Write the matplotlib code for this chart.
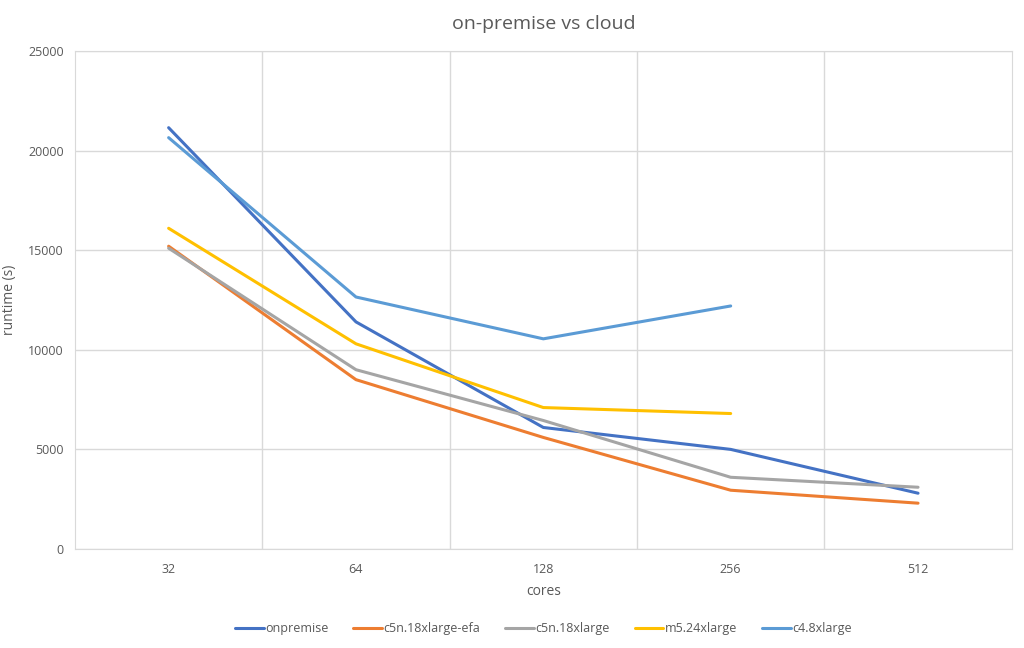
import numpy as np
import matplotlib.pyplot as plt

plt.rcParams['font.family'] = ['Open Sans', 'DejaVu Sans']

# Daten
cores = ["32", "64", "128", "256", "512"]
onpremise = [21150, 11400, 6100, 5000, 2800]
c5n_efa = [15200, 8500, 5600, 2950, 2300]
c5n = [15100, 9000, 6450, 3600, 3100]
m5 = [16100, 10300, 7100, 6800, np.nan]
c4 = [20650, 12650, 10550, 12200, np.nan]

series = [
    ("onpremise", onpremise, "#4472C4"),
    ("c5n.18xlarge-efa", c5n_efa, "#ED7D31"),
    ("c5n.18xlarge", c5n, "#A5A5A5"),
    ("m5.24xlarge", m5, "#FFC000"),
    ("c4.8xlarge", c4, "#5B9BD5"),
]

fig = plt.figure(figsize=(10.24, 6.48), dpi=100)
ax = fig.add_axes([0.0732, 0.1528, 0.9148, 0.7685])

x = np.arange(len(cores))
for name, vals, col in series:
    ax.plot(x, vals, color=col, linewidth=2.2, label=name, solid_capstyle='round')

ax.set_xlim(-0.5, len(cores) - 0.5)
ax.set_ylim(0, 25000)
ax.set_xticks(x)
ax.set_xticklabels(cores)
ax.set_xticks(np.arange(0.5, len(cores) - 0.5, 1), minor=True)
ax.set_yticks(range(0, 25001, 5000))
ax.tick_params(axis='both', which='both', length=0, labelsize=9, colors='#595959')
ax.tick_params(axis='x', pad=10)
ax.tick_params(axis='y', pad=8)

# Gitter
ax.grid(axis='y', color='#D9D9D9', linewidth=1)
ax.grid(axis='x', which='minor', color='#D9D9D9', linewidth=1)
ax.set_axisbelow(True)
for s in ax.spines.values():
    s.set_color('#D9D9D9')

ax.set_title("on-premise vs cloud", fontsize=14, color='#595959', pad=16)
ax.set_xlabel("cores", fontsize=10, color='#595959', labelpad=6)
ax.set_ylabel("runtime (s)", fontsize=10, color='#595959', labelpad=8)

ax.legend(loc='upper center', bbox_to_anchor=(0.5, -0.125), ncol=5, frameon=False,
          fontsize=9, labelcolor='#595959', handlelength=2.3, columnspacing=2.0,
          handletextpad=0.1)

fig.savefig("out.png", dpi=100)
